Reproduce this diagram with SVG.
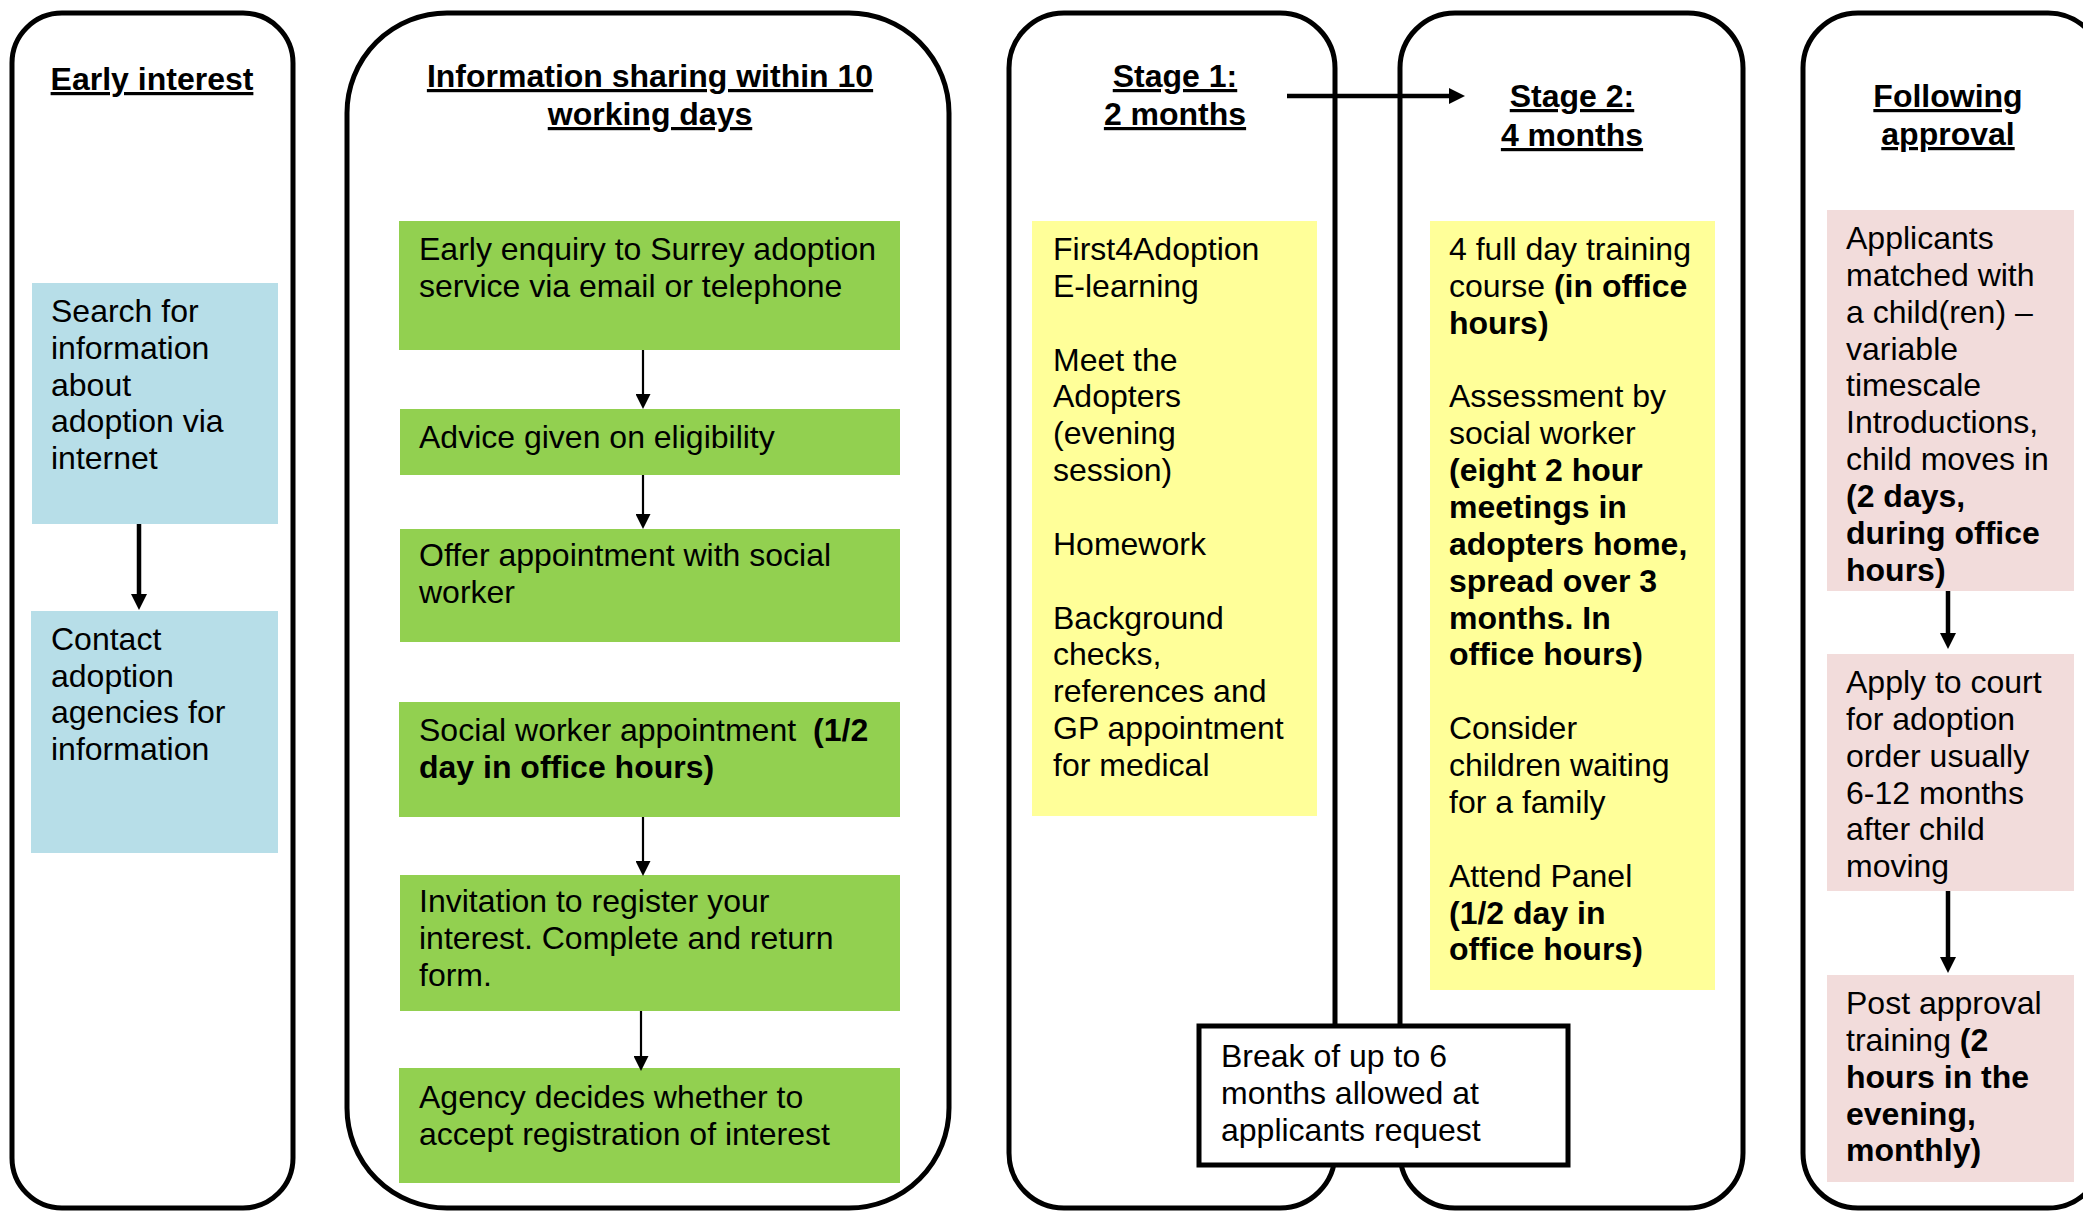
<svg xmlns="http://www.w3.org/2000/svg" width="2083" height="1212" viewBox="0 0 2083 1212">
<style>
.col{fill:#fff;stroke:#000;stroke-width:5}
.t{font-family:"Liberation Sans",Arial,sans-serif;font-size:32px;fill:#000}
.b{font-weight:bold}
.h{font-family:"Liberation Sans",Arial,sans-serif;font-size:32px;font-weight:bold;text-decoration:underline;text-decoration-thickness:4px;text-underline-offset:5px;text-anchor:middle;fill:#000}
.blue{fill:#B7DEE8}
.green{fill:#92D050}
.yellow{fill:#FFFF99}
.pink{fill:#F2DCDB}
.thin{stroke:#000;stroke-width:2.2;fill:none;marker-end:url(#ah)}
.bold{stroke:#000;stroke-width:4.5;fill:none;marker-end:url(#ahb)}
</style>
<defs>
<marker id="ah" viewBox="0 0 15 15" refX="3" refY="7.5" markerWidth="15" markerHeight="15" markerUnits="userSpaceOnUse" orient="auto">
<path d="M0,0 L15,7.5 L0,15 Z" fill="#000"/>
</marker>
<marker id="ahb" viewBox="0 0 16 16" refX="3" refY="8" markerWidth="16" markerHeight="16" markerUnits="userSpaceOnUse" orient="auto">
<path d="M0,0 L16,8 L0,16 Z" fill="#000"/>
</marker>
</defs>
<rect width="2083" height="1212" fill="#fff"/>

<g id="col-early-interest">
<rect class="col" x="12" y="13" width="281" height="1195" rx="50" ry="50"/>
<text class="h" x="152" y="90">Early interest</text>
</g>
<g id="col-information-sharing">
<rect class="col" x="347" y="13" width="602" height="1195" rx="100" ry="100"/>
<text class="h" x="650" y="87">Information sharing within 10</text>
<text class="h" x="650" y="125">working days</text>
</g>
<g id="col-stage1">
<rect class="col" x="1009" y="13" width="326" height="1195" rx="55" ry="55"/>
<text class="h" x="1175" y="87">Stage 1:</text>
<text class="h" x="1175" y="125">2 months</text>
</g>
<g id="col-stage2">
<rect class="col" x="1400" y="13" width="343" height="1195" rx="55" ry="55"/>
<text class="h" x="1572" y="107">Stage 2:</text>
<text class="h" x="1572" y="146">4 months</text>
</g>
<g id="col-following-approval">
<rect class="col" x="1803" y="13" width="300" height="1195" rx="55" ry="55"/>
<text class="h" x="1948" y="107">Following</text>
<text class="h" x="1948" y="145">approval</text>
</g>

<g id="n-search">
<rect class="blue" x="32" y="283" width="246" height="241"/>
<text class="t"><tspan x="51" y="322">Search for</tspan><tspan x="51" y="359">information</tspan><tspan x="51" y="396">about</tspan><tspan x="51" y="432">adoption via</tspan><tspan x="51" y="469">internet</tspan></text>
</g>
<g id="n-contact">
<rect class="blue" x="31" y="611" width="247" height="242"/>
<text class="t"><tspan x="51" y="650">Contact</tspan><tspan x="51" y="687">adoption</tspan><tspan x="51" y="723">agencies for</tspan><tspan x="51" y="760">information</tspan></text>
</g>

<g id="n-early-enquiry">
<rect class="green" x="399" y="221" width="501" height="129"/>
<text class="t"><tspan x="419" y="260">Early enquiry to Surrey adoption</tspan><tspan x="419" y="297">service via email or telephone</tspan></text>
</g>
<g id="n-advice">
<rect class="green" x="400" y="409" width="500" height="66"/>
<text class="t"><tspan x="419" y="448">Advice given on eligibility</tspan></text>
</g>
<g id="n-offer">
<rect class="green" x="400" y="529" width="500" height="113"/>
<text class="t"><tspan x="419" y="566">Offer appointment with social</tspan><tspan x="419" y="603">worker</tspan></text>
</g>
<g id="n-sw-appointment">
<rect class="green" x="399" y="702" width="501" height="115"/>
<text class="t"><tspan x="419" y="741">Social worker appointment</tspan><tspan class="b" dx="17">(1/2</tspan><tspan class="b" x="419" y="778">day in office hours)</tspan></text>
</g>
<g id="n-invitation">
<rect class="green" x="400" y="875" width="500" height="136"/>
<text class="t"><tspan x="419" y="912">Invitation to register your</tspan><tspan x="419" y="949">interest. Complete and return</tspan><tspan x="419" y="986">form.</tspan></text>
</g>
<g id="n-agency-decides">
<rect class="green" x="399" y="1068" width="501" height="115"/>
<text class="t"><tspan x="419" y="1108">Agency decides whether to</tspan><tspan x="419" y="1145">accept registration of interest</tspan></text>
</g>

<g id="n-stage1-box">
<rect class="yellow" x="1032" y="221" width="285" height="595"/>
<text class="t"><tspan x="1053" y="260">First4Adoption</tspan><tspan x="1053" y="297">E-learning</tspan><tspan x="1053" y="371">Meet the</tspan><tspan x="1053" y="407">Adopters</tspan><tspan x="1053" y="444">(evening</tspan><tspan x="1053" y="481">session)</tspan><tspan x="1053" y="555">Homework</tspan><tspan x="1053" y="629">Background</tspan><tspan x="1053" y="665">checks,</tspan><tspan x="1053" y="702">references and</tspan><tspan x="1053" y="739">GP appointment</tspan><tspan x="1053" y="776">for medical</tspan></text>
</g>

<g id="n-stage2-box">
<rect class="yellow" x="1430" y="221" width="285" height="769"/>
<text class="t"><tspan x="1449" y="260">4 full day training</tspan><tspan x="1449" y="297">course </tspan><tspan class="b">(in office</tspan><tspan class="b" x="1449" y="334">hours)</tspan><tspan x="1449" y="407">Assessment by</tspan><tspan x="1449" y="444">social worker</tspan><tspan class="b" x="1449" y="481">(eight 2 hour</tspan><tspan class="b" x="1449" y="518">meetings in</tspan><tspan class="b" x="1449" y="555">adopters home,</tspan><tspan class="b" x="1449" y="592">spread over 3</tspan><tspan class="b" x="1449" y="629">months. In</tspan><tspan class="b" x="1449" y="665">office hours)</tspan><tspan x="1449" y="739">Consider</tspan><tspan x="1449" y="776">children waiting</tspan><tspan x="1449" y="813">for a family</tspan><tspan x="1449" y="887">Attend Panel</tspan><tspan class="b" x="1449" y="924">(1/2 day in</tspan><tspan class="b" x="1449" y="960">office hours)</tspan></text>
</g>

<g id="n-matched">
<rect class="pink" x="1827" y="210" width="247" height="381"/>
<text class="t"><tspan x="1846" y="249">Applicants</tspan><tspan x="1846" y="286">matched with</tspan><tspan x="1846" y="323">a child(ren) –</tspan><tspan x="1846" y="360">variable</tspan><tspan x="1846" y="396">timescale</tspan><tspan x="1846" y="433">Introductions,</tspan><tspan x="1846" y="470">child moves in</tspan><tspan class="b" x="1846" y="507">(2 days,</tspan><tspan class="b" x="1846" y="544">during office</tspan><tspan class="b" x="1846" y="581">hours)</tspan></text>
</g>
<g id="n-apply-court">
<rect class="pink" x="1827" y="654" width="247" height="237"/>
<text class="t"><tspan x="1846" y="693">Apply to court</tspan><tspan x="1846" y="730">for adoption</tspan><tspan x="1846" y="767">order usually</tspan><tspan x="1846" y="804">6-12 months</tspan><tspan x="1846" y="840">after child</tspan><tspan x="1846" y="877">moving</tspan></text>
</g>
<g id="n-post-approval">
<rect class="pink" x="1827" y="975" width="247" height="207"/>
<text class="t"><tspan x="1846" y="1014">Post approval</tspan><tspan x="1846" y="1051">training </tspan><tspan class="b">(2</tspan><tspan class="b" x="1846" y="1088">hours in the</tspan><tspan class="b" x="1846" y="1125">evening,</tspan><tspan class="b" x="1846" y="1161">monthly)</tspan></text>
</g>

<g id="connectors">
<line class="bold" x1="139" y1="524" x2="139" y2="597"/>
<line class="thin" x1="643" y1="350" x2="643" y2="397"/>
<line class="thin" x1="643" y1="475" x2="643" y2="517"/>
<line class="thin" x1="643" y1="817" x2="643" y2="864"/>
<line class="thin" x1="641" y1="1011" x2="641" y2="1059"/>
<line class="bold" x1="1287" y1="96" x2="1452" y2="96"/>
<line class="bold" x1="1948" y1="591" x2="1948" y2="636"/>
<line class="bold" x1="1948" y1="891" x2="1948" y2="960"/>
</g>

<g id="n-break">
<rect x="1199" y="1026" width="369" height="139" fill="#fff" stroke="#000" stroke-width="5"/>
<text class="t"><tspan x="1221" y="1067">Break of up to 6</tspan><tspan x="1221" y="1104">months allowed at</tspan><tspan x="1221" y="1141">applicants request</tspan></text>
</g>
</svg>
